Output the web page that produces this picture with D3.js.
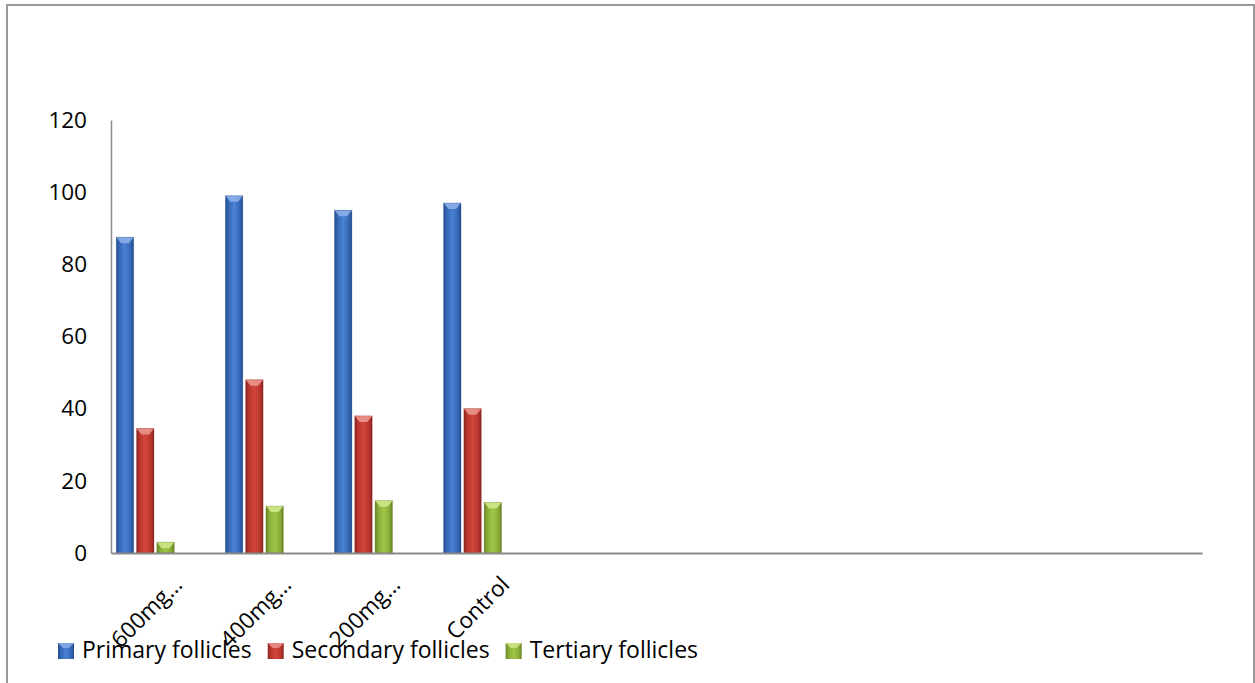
<!DOCTYPE html>
<html>
<head>
<meta charset="utf-8">
<script src="https://cdn.jsdelivr.net/npm/d3@7"></script>
<style>
  html, body { margin: 0; padding: 0; background: #ffffff; }
  svg { display: block; }
  text { font-family: "Open Sans", "Lato", sans-serif; fill: #000; }
</style>
</head>
<body>
<svg id="chart" width="1255" height="683"></svg>
<script>
// ---- data ----
const categories = ["600mg…", "400mg…", "200mg…", "Control"];
const slotCount = 10; // category axis has 10 slots; only the first 4 are labelled
const seriesNames = ["Primary follicles", "Secondary follicles", "Tertiary follicles"];
const primary = [87.5, 99, 95, 97];
const secondary = [34.5, 48, 38, 40];
const tertiary = [3, 13, 14.5, 14];
const yTicks = [0, 20, 40, 60, 80, 100, 120];

const seriesValues = [primary, secondary, tertiary];
const seriesColors = [
  { dark: "#234b8c", mid: "#3567b5", light: "#4a82d4", cap: "#8fb2ea" },
  { dark: "#8a2520", mid: "#b8352d", light: "#d2463b", cap: "#ee9a92" },
  { dark: "#667f26", mid: "#87ad37", light: "#a0c648", cap: "#d2ea8c" }
];

const svg = d3.select("#chart");
const W = 1255, H = 683;

// outer border
svg.append("rect")
  .attr("x", 7).attr("y", 5)
  .attr("width", 1247).attr("height", 720)
  .attr("fill", "none")
  .attr("stroke", "#9a9a9a")
  .attr("stroke-width", 2);

const plot = { left: 111, right: 1202, top: 120, bottom: 553 };

const y = d3.scaleLinear().domain([0, 120]).range([plot.bottom, plot.top]);
const x0 = d3.scaleBand().domain(d3.range(slotCount)).range([plot.left, plot.right]).padding(0);
const x1 = d3.scaleBand().domain(d3.range(5)).range([0, x0.bandwidth()])
  .paddingInner(0.14).paddingOuter(0.26);

// gradients
const defs = svg.append("defs");
seriesColors.forEach((c, i) => {
  const g = defs.append("linearGradient").attr("id", "grad" + i)
    .attr("x1", "0%").attr("x2", "100%").attr("y1", "0%").attr("y2", "0%");
  g.append("stop").attr("offset", "0%").attr("stop-color", c.dark);
  g.append("stop").attr("offset", "18%").attr("stop-color", c.mid);
  g.append("stop").attr("offset", "50%").attr("stop-color", c.light);
  g.append("stop").attr("offset", "82%").attr("stop-color", c.mid);
  g.append("stop").attr("offset", "100%").attr("stop-color", c.dark);
});

// y axis labels
const yAxis = d3.axisLeft(y).tickValues(yTicks).tickSize(0).tickPadding(24);
const gy = svg.append("g").attr("transform", `translate(${plot.left},0)`).call(yAxis);
gy.select(".domain").attr("stroke", "#8a8a8a").attr("stroke-width", 1.5);
gy.selectAll("text")
  .style("font-family", '"Open Sans", sans-serif')
  .style("font-size", "22.5px")
  .attr("fill", "#000");

// bars
const barsG = svg.append("g");
seriesValues.forEach((vals, si) => {
  const grp = barsG.append("g");
  grp.selectAll("rect.bar").data(vals).join("rect")
    .attr("class", "bar")
    .attr("x", (d, i) => x0(i) + x1(si))
    .attr("y", d => y(d))
    .attr("width", x1.bandwidth())
    .attr("height", d => y(0) - y(d))
    .attr("fill", `url(#grad${si})`);
  // top bevel
  grp.selectAll("path.cap").data(vals).join("path")
    .attr("class", "cap")
    .attr("d", (d, i) => {
      const bx = x0(i) + x1(si), bw = x1.bandwidth(), by = y(d);
      const h = Math.min(6, y(0) - by);
      return `M${bx},${by} L${bx + bw},${by} L${bx + bw * 0.72},${by + h} L${bx + bw * 0.28},${by + h} Z`;
    })
    .attr("fill", seriesColors[si].cap)
    .attr("opacity", 0.85);
  grp.selectAll("rect.edge").data(vals).join("rect")
    .attr("class", "edge")
    .attr("x", (d, i) => x0(i) + x1(si))
    .attr("y", d => y(d))
    .attr("width", x1.bandwidth())
    .attr("height", d => y(0) - y(d))
    .attr("fill", "none")
    .attr("stroke", seriesColors[si].dark)
    .attr("stroke-opacity", 0.35)
    .attr("stroke-width", 0.8);
});

// x axis
const xAxis = d3.axisBottom(x0).tickSize(0).tickFormat(i => categories[i] || "");
const gx = svg.append("g").attr("transform", `translate(0,${plot.bottom})`).call(xAxis);
gx.select(".domain").attr("stroke", "#8a8a8a").attr("stroke-width", 2);
gx.selectAll("text")
  .style("font-family", '"Open Sans", sans-serif')
  .style("font-size", "22.5px")
  .attr("fill", "#000")
  .attr("text-anchor", "end")
  .attr("dy", 0)
  .attr("y", 0)
  .attr("transform", `translate(18,33) rotate(-45)`);

// legend
const legend = svg.append("g").attr("class", "legend");
let lx = 58;
seriesNames.forEach((name, si) => {
  const c = seriesColors[si];
  const sq = legend.append("g");
  sq.append("rect").attr("x", lx).attr("y", 643).attr("width", 16).attr("height", 16)
    .attr("fill", `url(#grad${si})`);
  sq.append("path")
    .attr("d", `M${lx},643 L${lx + 16},643 L${lx + 11},648 L${lx + 5},648 Z`)
    .attr("fill", c.cap).attr("opacity", 0.8);
  const t = legend.append("text")
    .attr("x", lx + 24).attr("y", 658)
    .style("font-size", "23px")
    .text(name);
  const w = t.node().getComputedTextLength();
  lx = lx + 24 + w + 16;
});
</script>
</body>
</html>
